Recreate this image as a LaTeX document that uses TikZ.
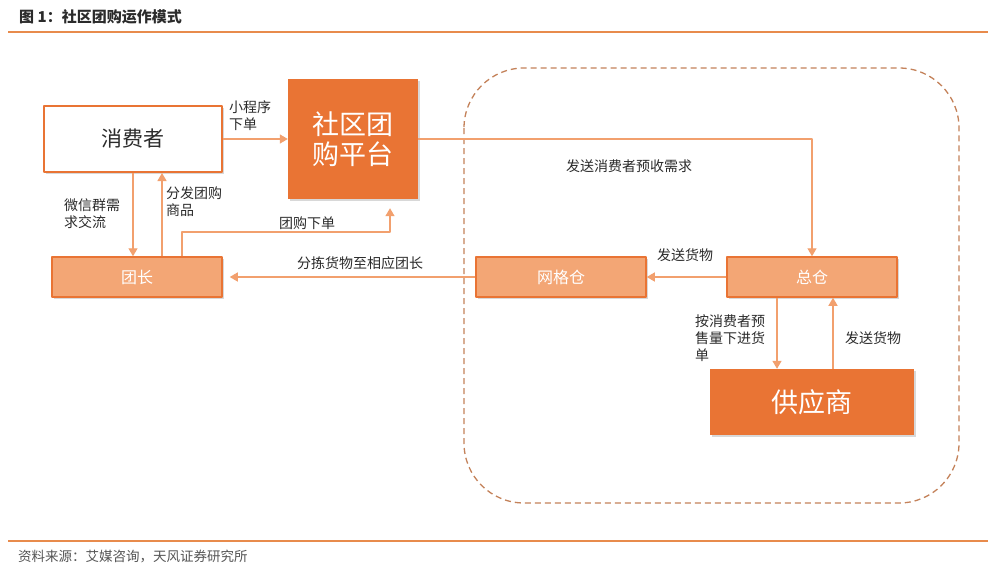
\documentclass[tikz,border=0pt]{standalone}
\usepackage{fontspec}
\setmainfont{Noto Sans CJK SC}
\usetikzlibrary{arrows.meta,calc,positioning,shadows}
\definecolor{tuanDark}{HTML}{E97434}
\definecolor{tuanLight}{HTML}{F3A675}
\definecolor{tuanLine}{HTML}{F2A06E}
\definecolor{tuanDash}{HTML}{C4825A}
\definecolor{tuanRule}{HTML}{E88B4C}
\definecolor{tuanInk}{HTML}{2B2B2B}
\definecolor{tuanGrey}{HTML}{555555}

\begin{document}
\begin{tikzpicture}[x=1pt,y=-1pt,>={Triangle[width=9pt,length=8pt]},line join=round]
\path[fill=white] (0,0) rectangle (1000,576);
\tikzset{flow/.style={draw=tuanLine,line width=1.3pt,->},lbl/.style={text=tuanInk,font=\fontsize{14}{17}\selectfont,align=left,inner sep=0pt},bigbox/.style={fill=tuanDark,text=white,inner sep=0pt,drop shadow={shadow xshift=2pt,shadow yshift=-2pt,opacity=0.3}},smallbox/.style={draw=tuanDark,fill=tuanLight,line width=1.5pt,text=white,inner sep=0pt,minimum width=170pt,minimum height=40pt,font=\fontsize{16}{18}\selectfont,drop shadow={shadow xshift=2pt,shadow yshift=-2pt,opacity=0.3}}}
% title and rules
\node[anchor=west,text=tuanInk,font=\bfseries\fontsize{15}{17}\selectfont,inner sep=0pt] (title) at (19,17) {图 1：社区团购运作模式};
\draw[tuanRule,line width=2pt] (8,32) -- (988,32);
\draw[tuanRule,line width=1.5pt] (8,541) -- (988,541);
\node[anchor=west,text=tuanGrey,font=\fontsize{13.5}{15}\selectfont,inner sep=0pt] (source) at (18,556) {资料来源：艾媒咨询，天风证券研究所};
% dashed supply area
\draw[tuanDash,line width=1.3pt,dash pattern=on 6pt off 4pt,rounded corners=60pt] (464,68) rectangle (959,503);
% boxes
\node[draw=tuanDark,fill=white,line width=2pt,minimum width=178pt,minimum height=66pt,font=\fontsize{21}{23}\selectfont,text=tuanInk,drop shadow={shadow xshift=2pt,shadow yshift=-2pt,opacity=0.3}] (consumer) at (133,139) {消费者};
\node[bigbox,minimum width=130pt,minimum height=120pt,align=center,font=\fontsize{27}{30}\selectfont] (platform) at (353,139) {社区团\\购平台};
\node[smallbox] (leader) at (137,277) {团长};
\node[smallbox] (grid) at (561,277) {网格仓};
\node[smallbox] (hub) at (812,277) {总仓};
\node[bigbox,minimum width=204pt,minimum height=66pt,font=\fontsize{27}{30}\selectfont] (supplier) at (812,402) {供应商};
% connectors
\draw[flow] (consumer.east) -- (platform.west);
\draw[flow] (consumer.south) -- (consumer.south |- leader.north);
\draw[flow] ([xshift=25pt]leader.north) -- ([xshift=25pt]leader.north |- consumer.south);
\draw[flow] ([xshift=45pt]leader.north) |- (390,232) -- ($(platform.south)+(37,9)$);
\draw[flow] (grid.west) -- ([xshift=7pt]leader.east);
\draw[flow] (platform.east) -| (hub.north);
\draw[flow] (hub.west) -- (grid.east);
\draw[flow] ([xshift=-35pt]hub.south) -- ([xshift=-35pt]hub.south |- supplier.north);
\draw[flow] ([xshift=21pt]supplier.north) -- ([xshift=21pt]supplier.north |- hub.south);
% labels
\node[lbl,anchor=west] (lblApp) at (229,116) {小程序\\下单};
\node[lbl,anchor=west] (lblWechat) at (64,214) {微信群需\\求交流};
\node[lbl,anchor=west] (lblDeliver) at (166,202) {分发团购\\商品};
\node[lbl] (lblOrder) at (307,223) {团购下单};
\node[lbl] (lblSort) at (360,263) {分拣货物至相应团长};
\node[lbl] (lblDemand) at (629,166) {发送消费者预收需求};
\node[lbl] (lblShipGrid) at (685,255) {发送货物};
\node[lbl,anchor=west] (lblPurchase) at (695,338) {按消费者预\\售量下进货\\单};
\node[lbl] (lblShipHub) at (873,338) {发送货物};
\end{tikzpicture}
\end{document}
